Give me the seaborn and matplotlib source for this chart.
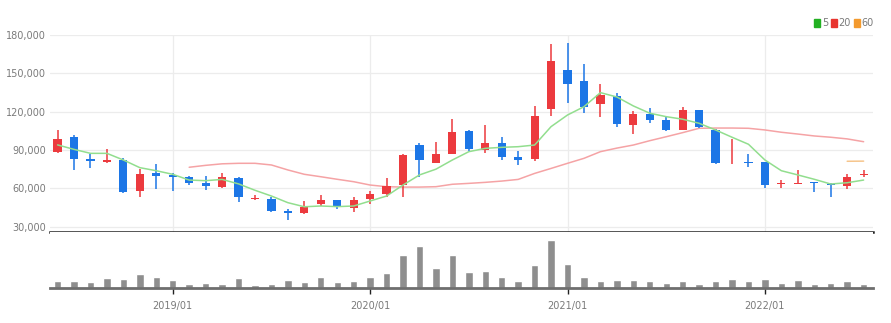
import numpy as np
import pandas as pd
import matplotlib
matplotlib.use("Agg")
import matplotlib.pyplot as plt
from matplotlib.patches import Patch
import seaborn as sns

# ---- data (monthly, 2018/06 .. 2022/07) ----
months = pd.date_range("2018-06-01", periods=50, freq="MS").strftime("%Y/%m").tolist()

opens = [88700, 100000, 83000, 80500, 82500, 58000, 72000, 70500, 68500, 64500,
         61000, 68000, 51500, 52000, 42000, 40500, 47500, 50500, 45000, 51500,
         55500, 63000, 94000, 80000, 87000, 104500, 90000, 95500, 84500, 83000,
         122000, 153000, 144000, 126000, 132500, 109500, 118000, 113500, 105500, 121000,
         106000, 79500, 80500, 80500, 63500, 63500, 64500, 63500, 62000, 70500]
closes = [99000, 83000, 81500, 82500, 57000, 71000, 69500, 69000, 64000, 62000,
          68500, 53000, 52000, 42500, 41000, 45500, 50500, 45500, 50500, 55500,
          62000, 86000, 82000, 86500, 104000, 91000, 95500, 84500, 82000, 117000,
          160000, 141500, 123500, 133000, 110500, 118000, 113500, 105500, 121500, 108000,
          79500, 80000, 79500, 63000, 64000, 64500, 64000, 62500, 68500, 71000]
highs = [105500, 101500, 86500, 91000, 83500, 75500, 79000, 72000, 69500, 69500,
         72000, 69000, 55000, 53000, 43500, 50000, 55000, 51000, 53000, 58000,
         68000, 86500, 95500, 96500, 114500, 106000, 109500, 100000, 89500, 124500,
         173000, 174000, 157500, 141500, 135000, 120500, 122500, 116000, 123500, 121500,
         106500, 99000, 86500, 81000, 66500, 74500, 65000, 64000, 71000, 74000]
lows = [87500, 74000, 76000, 79500, 56500, 53000, 59500, 58000, 62500, 58500,
        60500, 49500, 51000, 41500, 35000, 40000, 46500, 43500, 41500, 48000,
        53000, 53500, 68500, 79500, 86500, 89500, 88000, 82000, 78500, 81500,
        117000, 126500, 119000, 115500, 108000, 102500, 111500, 105000, 105500, 107000,
        79000, 79000, 77000, 60000, 60000, 63500, 57500, 53500, 59500, 68500]

ma5 = [94000, 90500, 87400, 87400, 82200, 76200, 73800, 71000, 66500, 66000,
       67000, 63500, 58500, 54000, 48800, 45600, 46200, 45700, 46200, 50100,
       54000, 62600, 70500, 75000, 82200, 88700, 91300, 92100, 92600, 93900,
       108300, 117400, 123900, 134900, 131500, 124500, 118800, 116100, 114100, 110900,
       105700, 100000, 94500, 82200, 73800, 70500, 67100, 63400, 64400, 66500]
ma20_start = 8
ma20 = [76500, 78000, 79200, 79600, 79600, 78300, 74400, 71000, 69100, 67100,
        65200, 62600, 61300, 61000, 61000, 61300, 63200, 63900, 64700, 65700,
        67000, 71700, 75600, 79600, 83500, 88700, 91500, 93900, 97300, 100400,
        103600, 107000, 107200, 107200, 107000, 105700, 103900, 102500, 101000, 100000,
        98700, 96500]
ma60_start = 48
ma60 = [81200, 81300]

volume = [700, 700, 530, 930, 830, 1370, 1100, 770, 370, 500,
          400, 1000, 300, 400, 770, 530, 1070, 530, 670, 1070,
          1430, 3270, 4200, 2000, 3270, 1600, 1670, 1100, 670, 2270,
          4770, 2400, 1070, 700, 800, 800, 700, 500, 700, 400,
          670, 830, 670, 830, 430, 800, 400, 500, 670, 330]

yticks = [30000, 60000, 90000, 120000, 150000, 180000]
year_ticks = ["2019/01", "2020/01", "2021/01", "2022/01"]

# ---- styling ----
sns.set_style("white")
plt.rcParams["font.family"] = ["Liberation Sans Narrow", "DejaVu Sans"]

RED = "#EC3A3E"
BLUE = "#1C76E6"
GREEN = "#92DE8E"
PINK = "#F5A3A5"
ORANGE = "#F6C58C"
GRAY_TXT = "#7A7A7A"
GRID = "#ECECEC"

W, H = 891, 323
fig = plt.figure(figsize=(W / 100, H / 100), dpi=100)
ax = fig.add_axes([50 / W, 1 - 232 / H, (873 - 50) / W, (232 - 35) / H])
axv = fig.add_axes([50 / W, 1 - 287.5 / H, (873 - 50) / W, (287.5 - 232) / H])

n = len(months)
idx = np.arange(n)
x_lim = (-0.46, 49.57)

# ---- main price panel ----
ax.set_xlim(*x_lim)
ax.set_ylim(25850, 180000)
ax.set_yticks(yticks)
ax.set_yticklabels([f"{v:,}" for v in yticks], fontsize=7, color=GRAY_TXT)
ax.tick_params(axis="y", length=0, pad=3)
year_pos = [months.index(t) for t in year_ticks]
ax.set_xticks(year_pos)
ax.set_xticklabels([])
ax.tick_params(axis="x", length=0)
ax.grid(True, color=GRID, lw=0.9)
ax.set_axisbelow(True)
for s in ["top", "left", "right"]:
    ax.spines[s].set_visible(False)
ax.spines["bottom"].set_color("#222222")
ax.spines["bottom"].set_linewidth(1.8)

o = np.array(opens); c = np.array(closes)
hi = np.array(highs); lo = np.array(lows)
up = c >= o
cols = np.where(up, RED, BLUE)
ax.vlines(idx, lo, hi, colors=cols, lw=1.3, alpha=0.85, zorder=2)
body_bot = np.minimum(o, c)
body_h = np.maximum(np.abs(c - o), 700)
ax.bar(idx, body_h, bottom=body_bot, width=0.5, color=cols, lw=0, zorder=3)

sns.lineplot(x=idx, y=ma5, ax=ax, color=GREEN, lw=1.1, zorder=4)
sns.lineplot(x=idx[ma20_start:], y=ma20, ax=ax, color=PINK, lw=1.1, zorder=1.5)
sns.lineplot(x=idx[ma60_start:], y=ma60, ax=ax, color=ORANGE, lw=1.1, zorder=1.5)
ax.set_xlabel(""); ax.set_ylabel("")

# legend
handles = [Patch(color="#22B022", label="5"), Patch(color="#E8342E", label="20"),
           Patch(color="#F39A2E", label="60")]
leg = fig.legend(handles=handles, loc="center right", bbox_to_anchor=(874 / W, 1 - 23 / H),
                 ncol=3, frameon=False, fontsize=7, handlelength=0.55, handleheight=0.9,
                 handletextpad=0.2, columnspacing=0.35, borderpad=0, borderaxespad=0)
for t in leg.get_texts():
    t.set_color(GRAY_TXT)

# ---- volume panel ----
vdf = pd.DataFrame({"i": idx, "vol": volume})
sns.barplot(data=vdf, x="i", y="vol", ax=axv, color="#8E8E8E", saturation=1,
            width=0.45, native_scale=True, errorbar=None)
axv.set_xlim(*x_lim)
axv.set_ylim(0, max(volume) * 55.5 / 47.7)
axv.set_yticks([])
axv.set_xticks(year_pos)
axv.set_xticklabels(year_ticks, fontsize=7, color=GRAY_TXT)
axv.tick_params(axis="x", length=4, width=1, color="#222222", direction="out", pad=6, bottom=True)
axv.set_xlabel(""); axv.set_ylabel("")
for s in ["top", "left", "right"]:
    axv.spines[s].set_visible(False)
axv.spines["bottom"].set_color("#6E6E6E")
axv.spines["bottom"].set_linewidth(2)
axv.grid(False)

fig.savefig("out.png", dpi=100, facecolor="white")
